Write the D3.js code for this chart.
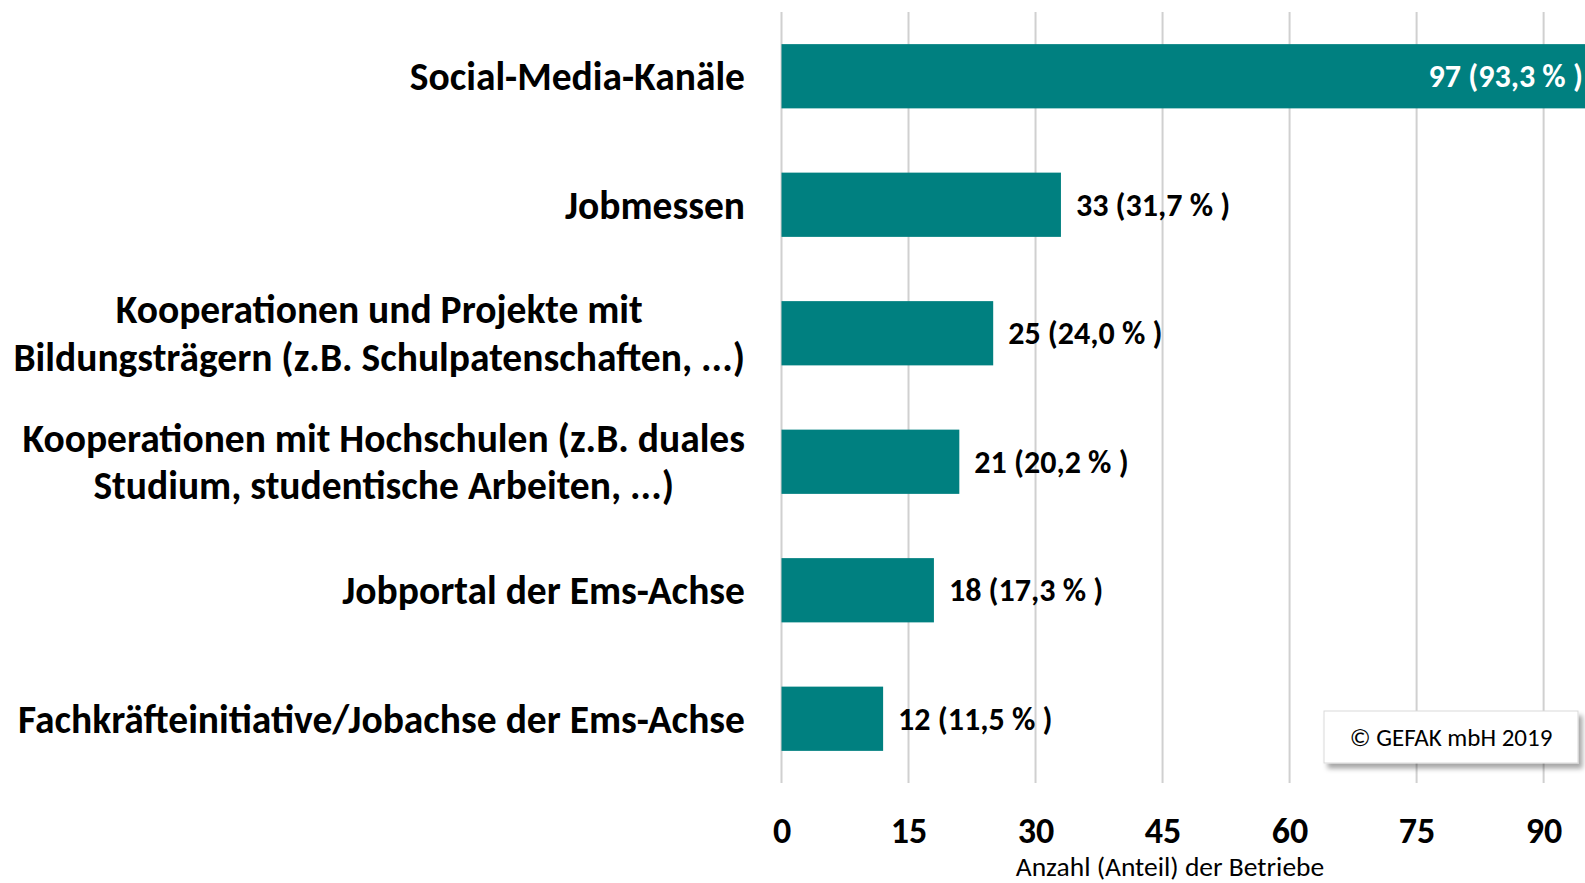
<!DOCTYPE html>
<html>
<head>
<meta charset="utf-8">
<script src="https://cdn.jsdelivr.net/npm/d3@7"></script>
<style>
  html, body { margin: 0; padding: 0; background: #fff; overflow: hidden; }
  svg { display: block; font-family: Carlito, "Liberation Sans Narrow", "Open Sans", sans-serif; }
  .grid line { stroke: #d0d0d0; stroke-width: 2; }
  .cat { font-weight: bold; font-size: 39.5px; fill: #000; }
  .val { font-weight: bold; font-size: 32px; fill: #000; }
  .tick-label { font-weight: bold; font-size: 36px; fill: #000; }
</style>
</head>
<body>
<div id="chart"></div>
<script>
const categories = [
  ['Social-Media-Kanäle'],
  ['Jobmessen'],
  ['Kooperationen und Projekte mit', 'Bildungsträgern (z.B. Schulpatenschaften, ...)'],
  ['Kooperationen mit Hochschulen (z.B. duales', 'Studium, studentische Arbeiten, ...)'],
  ['Jobportal der Ems-Achse'],
  ['Fachkräfteinitiative/Jobachse der Ems-Achse']
];
const counts = [97, 33, 25, 21, 18, 12];
const shares = ['93,3', '31,7', '24,0', '20,2', '17,3', '11,5'];
const ticks = [0, 15, 30, 45, 60, 75, 90];

const width = 1585;
const height = 883;
const plotLeft = 781.5;

const svg = d3.select('#chart')
  .append('svg')
  .attr('width', width)
  .attr('height', height);

// plot runs past the right edge of the picture (cropped like the original)
const x = d3.scaleLinear()
  .domain([0, 105])
  .range([plotLeft, plotLeft + 105 * 8.468]);

const y = d3.scaleBand()
  .domain(d3.range(categories.length))
  .range([12, 783])
  .paddingInner(0.5)
  .paddingOuter(0.25);

// gridlines
svg.append('g')
  .attr('class', 'grid')
  .selectAll('line')
  .data(ticks)
  .enter()
    .append('line')
    .attr('x1', d => x(d))
    .attr('x2', d => x(d))
    .attr('y1', 12)
    .attr('y2', 783);

// x axis labels
const xAxis = d3.axisBottom(x).tickValues(ticks).tickSize(0).tickPadding(0);
const axisG = svg.append('g')
  .attr('transform', 'translate(0,843)')
  .call(xAxis)
  .attr('font-family', null)
  .attr('font-size', null);
axisG.select('.domain').remove();
axisG.selectAll('text')
  .attr('class', 'tick-label')
  .attr('y', 0)
  .attr('dy', null);

svg.append('text')
  .attr('x', 1170)
  .attr('y', 876)
  .attr('text-anchor', 'middle')
  .style('font-size', '27.5px')
  .text('Anzahl (Anteil) der Betriebe');

// bars
svg.append('g')
  .selectAll('rect')
  .data(counts)
  .enter()
    .append('rect')
    .attr('x', x(0))
    .attr('y', (d, i) => y(i))
    .attr('width', d => x(d) - x(0))
    .attr('height', y.bandwidth())
    .style('fill', '#008080');

// value labels
svg.append('g')
  .selectAll('text')
  .data(counts)
  .enter()
    .append('text')
    .attr('class', 'val')
    .attr('x', d => d > 90 ? x(d) - 20 : x(d) + 15)
    .attr('y', (d, i) => y(i) + y.bandwidth() / 2)
    .attr('dy', '0.35em')
    .attr('text-anchor', d => d > 90 ? 'end' : 'start')
    .style('fill', d => d > 90 ? '#fff' : '#000')
    .text((d, i) => `${d} (${shares[i]} % )`);

// category labels (multi-line centred, block right-aligned)
const lineH = 47.5;
const catG = svg.append('g');
categories.forEach((lines, i) => {
  const t = catG.append('text')
    .attr('class', 'cat')
    .attr('text-anchor', 'middle');
  const cy = y(i) + y.bandwidth() / 2;
  lines.forEach((s, j) => {
    t.append('tspan')
      .attr('y', cy + (j - (lines.length - 1) / 2) * lineH)
      .attr('dy', '0.35em')
      .text(s);
  });
  const w = d3.max(t.selectAll('tspan').nodes(), n => n.getComputedTextLength());
  t.selectAll('tspan').attr('x', 745 - w / 2);
});

// copyright box
const defs = svg.append('defs');
const f = defs.append('filter').attr('id', 'shadow').attr('x', '-10%').attr('y', '-20%').attr('width', '130%').attr('height', '160%');
f.append('feDropShadow').attr('dx', 4).attr('dy', 5).attr('stdDeviation', 2.5).attr('flood-color', '#000').attr('flood-opacity', 0.35);

const box = svg.append('g');
box.append('rect')
  .attr('x', 1324)
  .attr('y', 711)
  .attr('width', 254)
  .attr('height', 52)
  .style('fill', '#fff')
  .style('stroke', '#d9d9d9')
  .style('stroke-width', 1)
  .attr('filter', 'url(#shadow)');
box.append('text')
  .attr('x', 1451)
  .attr('y', 737)
  .attr('dy', '0.35em')
  .attr('text-anchor', 'middle')
  .style('font-size', '25px')
  .text('© GEFAK mbH 2019');
</script>
</body>
</html>
